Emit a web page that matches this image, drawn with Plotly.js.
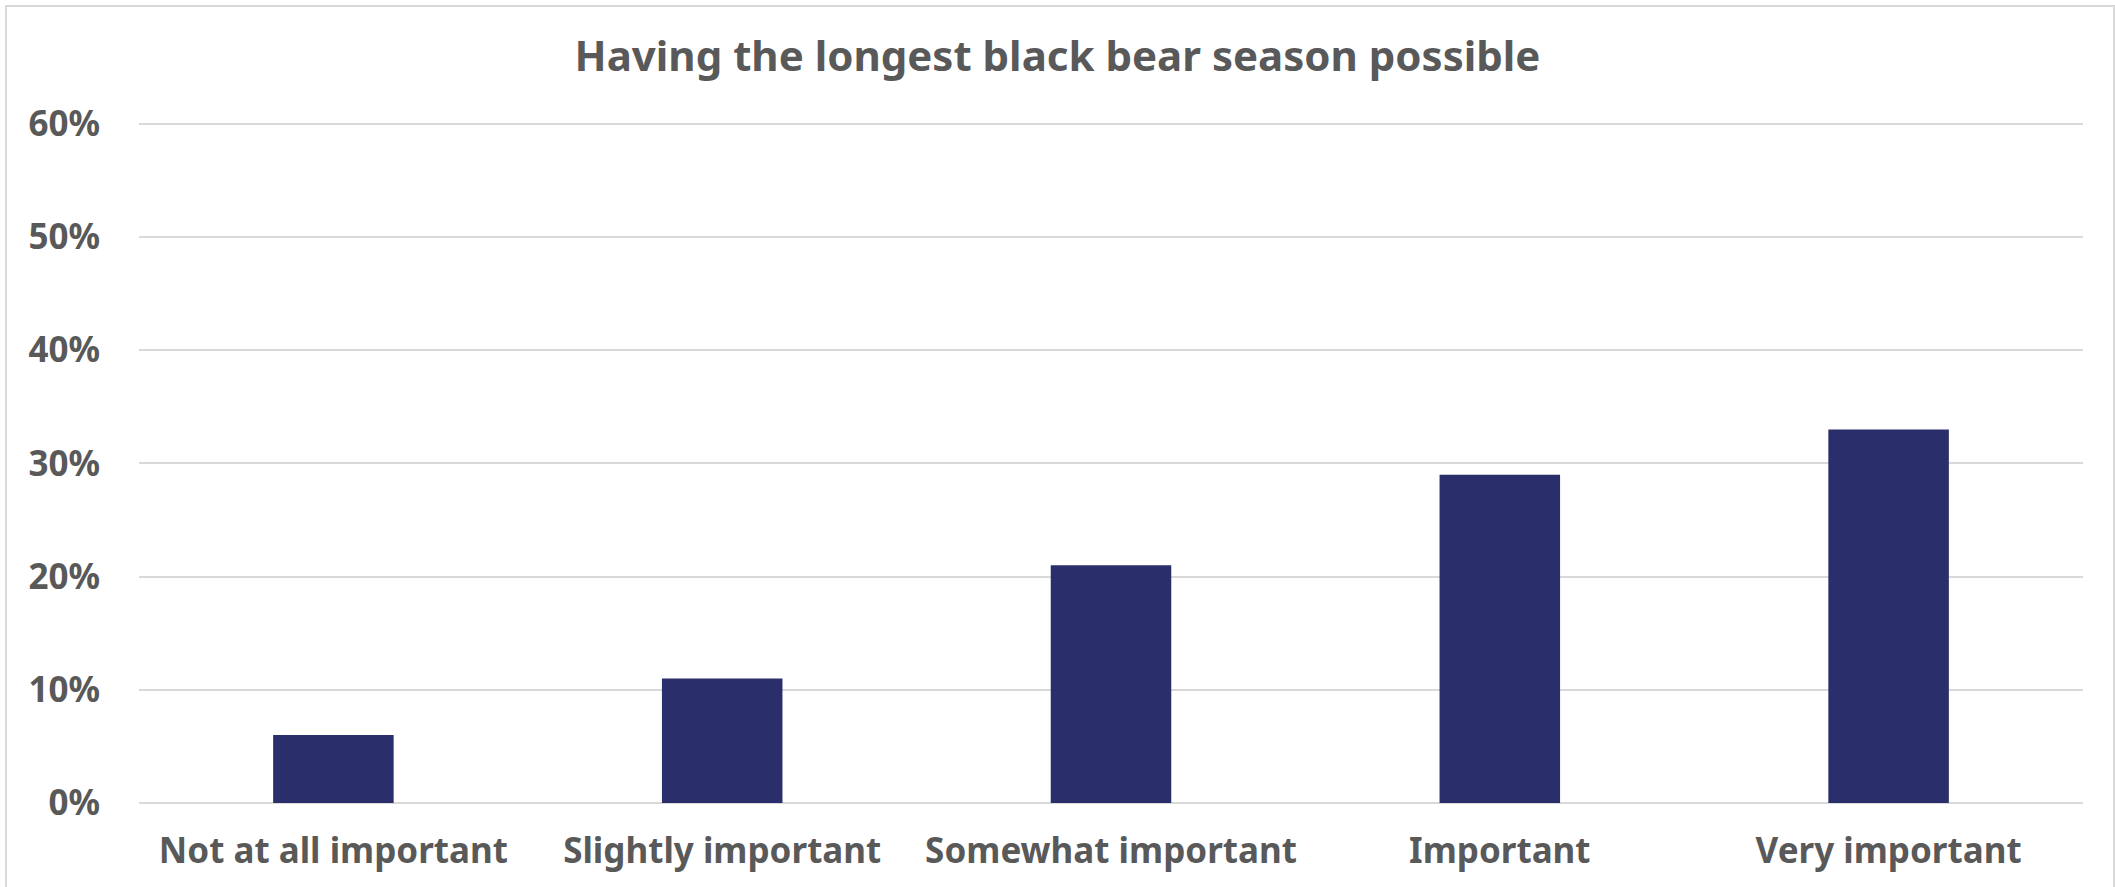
<!DOCTYPE html>
<html>
<head>
<meta charset="utf-8">
<script src="https://cdn.plot.ly/plotly-3.0.1.min.js"></script>
<style>
  html, body { margin: 0; padding: 0; background: #ffffff; overflow: hidden; }
  #frame { position: absolute; left: 5px; top: 5px; width: 2110px; height: 890px; border: 2px solid #d9d9d9; box-sizing: border-box; }
  #chart { position: absolute; left: 0; top: 0; width: 2115px; height: 887px; }
</style>
</head>
<body>
<div id="frame"></div>
<div id="chart"></div>
<script>
const categories = ["Not at all important", "Slightly important", "Somewhat important", "Important", "Very important"];
const values = [6, 11, 21, 29, 33];
const yTickValues = [0, 10, 20, 30, 40, 50, 60];
const yTickLabels = ["0%", "10%", "20%", "30%", "40%", "50%", "60%"];
const chartTitle = "Having the longest black bear season possible";

const fontFamily = "'Noto Sans', 'DejaVu Sans', sans-serif";
const textColor = "#595959";

const trace = {
  type: "bar",
  x: categories,
  y: values,
  marker: { color: "#2a2e6a" },
  hoverinfo: "x+y"
};

const layout = {
  width: 2115,
  height: 887,
  paper_bgcolor: "rgba(0,0,0,0)",
  plot_bgcolor: "rgba(0,0,0,0)",
  margin: { l: 139, r: 32, t: 122, b: 84, pad: 0 },
  bargap: 0.69,
  showlegend: false,
  title: {
    text: "<b>" + chartTitle + "</b>",
    x: 0.5,
    xref: "container",
    xanchor: "center",
    y: 1 - 56 / 887,
    yref: "container",
    yanchor: "middle",
    font: { family: fontFamily, size: 42, color: textColor }
  },
  xaxis: {
    type: "category",
    showgrid: false,
    zeroline: false,
    showline: false,
    ticks: "",
    tickfont: { family: fontFamily, size: 35, color: textColor, weight: "bold" },
    ticklabelstandoff: 24
  },
  yaxis: {
    range: [0, 60.15],
    tickmode: "array",
    tickvals: yTickValues,
    ticktext: yTickLabels,
    showgrid: true,
    gridcolor: "#d9d9d9",
    gridwidth: 2,
    zeroline: true,
    zerolinecolor: "#d9d9d9",
    zerolinewidth: 2,
    showline: false,
    ticks: "",
    tickfont: { family: fontFamily, size: 35, color: textColor, weight: "bold" },
    ticklabelstandoff: 38
  }
};

Plotly.newPlot("chart", [trace], layout, { displayModeBar: false, staticPlot: true });
</script>
</body>
</html>
